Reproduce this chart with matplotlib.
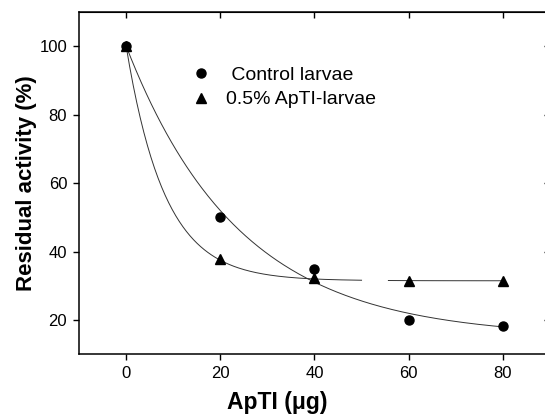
import numpy as np
import matplotlib
matplotlib.use("Agg")
import matplotlib.pyplot as plt

plt.rcParams["font.family"] = ["Liberation Sans", "DejaVu Sans"]

dose = [0, 20, 40, 60, 80]
control = [100, 50, 35, 20.2, 18.3]
aptl = [100, 37.9, 32.4, 31.3, 31.3]

# exponential decay fits y = y0 + a * exp(-b * x)
control_fit = (15.0, 85.0, 0.0416)
aptl_fit = (31.5, 68.5, 0.1218)

xticks = [0, 20, 40, 60, 80]
yticks = [20, 40, 60, 80, 100]


def decay(x, p):
    y0, a, b = p
    return y0 + a * np.exp(-b * x)


fig = plt.figure(figsize=(5.45, 4.18), dpi=100)
ax = fig.add_axes([0.145, 0.152, 0.864, 0.82])

# fitted curves (the ApTI curve has a small break around 50-56 in the original)
xs = np.linspace(0, 80, 300)
ax.plot(xs, decay(xs, control_fit), color="#333333", lw=0.7, zorder=2)
xa = np.linspace(0, 50, 200)
ax.plot(xa, decay(xa, aptl_fit), color="#333333", lw=0.7, zorder=2)
xb = np.linspace(55.7, 80.5, 50)
ax.plot(xb, decay(xb, aptl_fit), color="#333333", lw=0.7, zorder=2)

# data points
ax.plot(dose, aptl, linestyle="none", marker="^", ms=7, color="black",
        label="0.5% ApTI-larvae", zorder=3)
ax.plot(dose, control, linestyle="none", marker="o", ms=6.5, color="black",
        label=" Control larvae", zorder=4)

ax.set_xlim(-10, 90)
ax.set_ylim(10, 110)
ax.set_xticks(xticks)
ax.set_yticks(yticks)

for side in ["left", "bottom", "top", "right"]:
    ax.spines[side].set_linewidth(1.1)
ax.tick_params(axis="both", direction="out", length=4.5, width=1.0,
               labelsize=12, pad=4)

# mirrored ticks pointing inwards on top and right
top = ax.secondary_xaxis("top")
top.set_xticks(xticks)
top.tick_params(direction="in", length=4.5, width=1.0, labeltop=False)
right = ax.secondary_yaxis("right")
right.set_yticks(yticks)
right.tick_params(direction="in", length=4.5, width=1.0, labelright=False)

ax.set_xlabel("ApTI (\u03bcg)", fontsize=16.5, fontweight="bold", labelpad=8)
ax.xaxis.set_label_coords(0.42, -0.107)
ax.set_ylabel("Residual activity (%)", fontsize=16, fontweight="bold", labelpad=2)

handles, labels = ax.get_legend_handles_labels()
ax.legend(handles[::-1], labels[::-1], frameon=False, loc="upper left",
          bbox_to_anchor=(0.226, 0.863), fontsize=14, handlelength=0.8,
          handletextpad=0.9, labelspacing=0.35, borderaxespad=0)

fig.savefig("out.png", dpi=100)
